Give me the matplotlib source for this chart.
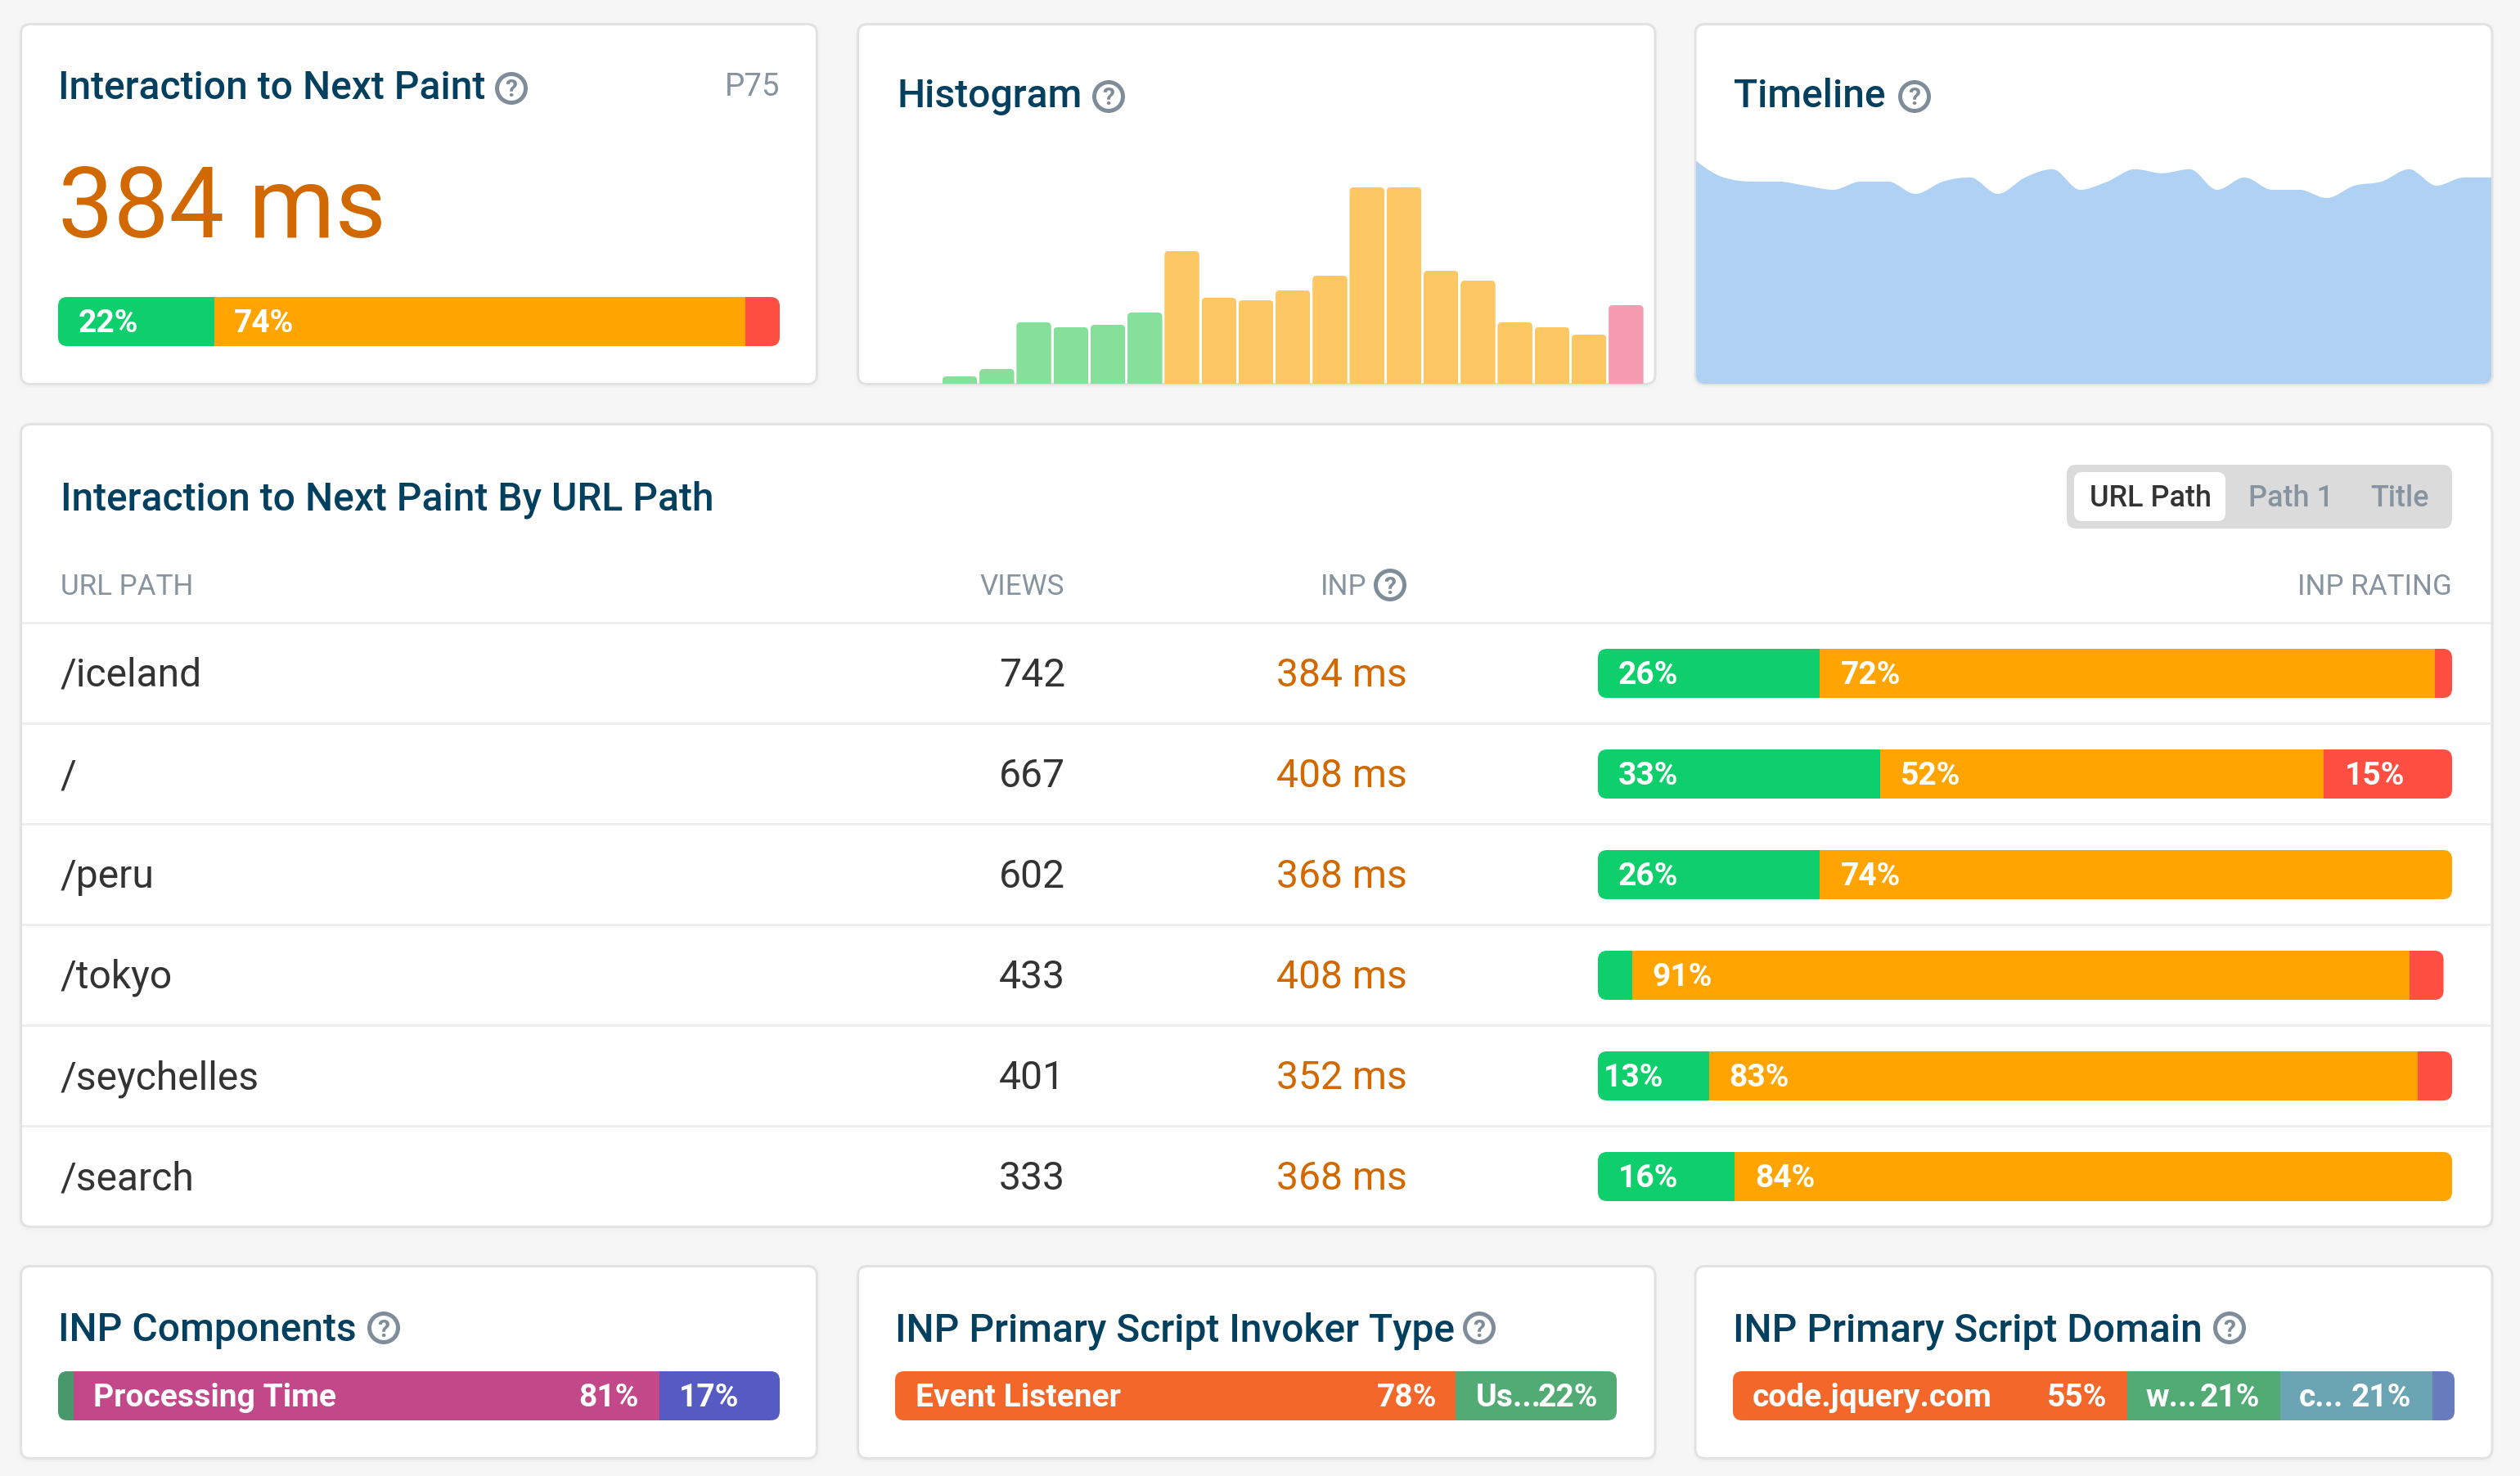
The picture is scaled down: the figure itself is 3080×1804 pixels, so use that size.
import matplotlib
matplotlib.use("Agg")
import matplotlib.pyplot as plt
import numpy as np
from matplotlib.patches import FancyBboxPatch, PathPatch, Circle, Rectangle
from matplotlib.path import Path

W, H = 3080, 1804

# ---- data ----
histogram_counts = [0, 0, 3, 6, 25, 23, 24, 29, 54, 35, 34, 38, 44, 80, 80, 46, 42, 25, 23, 20, 32]
histogram_good_bins = 8
histogram_ni_bins = 12
timeline_values = [54, 50, 49, 49, 48, 47, 49, 49, 46, 49, 50, 46, 50, 52, 47,
                   49, 52, 51, 52, 47, 50, 47, 47, 45, 48, 49, 52, 48, 50, 50]
overall_rating = [21.7, 73.5, 4.8]
overall_labels = ["22%", "74%", ""]
url_paths = ["/iceland", "/", "/peru", "/tokyo", "/seychelles", "/search"]
url_views = [742, 667, 602, 433, 401, 333]
url_inp = [384, 408, 368, 408, 352, 368]
url_good = [26, 33, 26, 4, 13, 16]
url_ni = [72, 52, 74, 91, 83, 84]
url_poor = [2, 15, 0, 4, 4, 0]
url_good_labels = ["26%", "33%", "26%", "", "13%", "16%"]
url_ni_labels = ["72%", "52%", "74%", "91%", "83%", "84%"]
url_poor_labels = ["", "15%", "", "", "", ""]
components = [2.1, 81.2, 16.7]
invoker_types = [77.7, 22.3]
script_domains = [54.6, 21.2, 21.1, 3.1]

# ---- style ----
BG = "#F6F6F6"
BORDER = "#E2E2E2"
NAVY = "#03405F"
GREY = "#87949F"
ICON = "#7F8D9B"
DARK = "#333333"
ORANGE_TXT = "#D16900"
GOOD, NI, POOR = "#0ECF6C", "#FFA400", "#FF4E42"
HIST_COLORS = ("#86E09A", "#FDC863", "#F59BB2")
AREA = "#AFD1F3"
FONT = "Roboto"
PT = 0.72

plt.rcParams["font.family"] = [FONT, "DejaVu Sans"]

fig = plt.figure(figsize=(W / 100, H / 100), dpi=100, facecolor=BG)


def px_axes(x0, y0, x1, y1, z):
    ax = fig.add_axes([x0 / W, 1 - y1 / H, (x1 - x0) / W, (y1 - y0) / H], zorder=z)
    ax.axis("off")
    return ax


back = px_axes(0, 0, W, H, 0)
back.set_xlim(0, W)
back.set_ylim(H, 0)
front = px_axes(0, 0, W, H, 5)
front.set_xlim(0, W)
front.set_ylim(H, 0)
front.patch.set_alpha(0)


def rbox(x0, y0, x1, y1, r, **kw):
    return FancyBboxPatch((x0 + r, y0 + r), x1 - x0 - 2 * r, y1 - y0 - 2 * r,
                          boxstyle=f"round,pad={r},rounding_size={r}", **kw)


def card(x0, y0, x1, y1):
    for grow, col in ((8, "#F5F5F5"), (4, "#F1F1F1")):
        back.add_patch(rbox(x0 - grow / 2, y0 - grow / 4, x1 + grow / 2, y1 + grow, 14,
                            fc=col, ec="none"))
    back.add_patch(rbox(x0, y0, x1, y1, 12, fc="white", ec=BORDER, lw=3 * PT))


def txt(x, y, s, size, color, ha="left", weight="normal"):
    front.text(x, y, s, fontsize=size * PT, color=color, ha=ha, va="baseline",
               fontweight=weight, family=[FONT, "DejaVu Sans"])


def help_icon(cx, cy):
    front.add_patch(Circle((cx, cy), 17.5, fc="none", ec=ICON, lw=5 * PT))
    front.text(cx, cy + 10.5, "?", fontsize=30 * PT, color=ICON, ha="center", va="baseline",
               fontweight="bold", family=[FONT, "DejaVu Sans"])


def stack(x0, y0, x1, y1, values, colors, total=100.0):
    """Stacked horizontal bar on its own 0-100 axis, clipped to rounded ends."""
    ax = px_axes(x0, y0, x1, y1, 3)
    ax.set_xlim(0, total)
    ax.set_ylim(0, 1)
    left = 0.0
    end = x0 + (x1 - x0) * sum(values) / total
    clip = rbox(x0, y0, end, y1, 11, transform=back.transData, fc="none", ec="none")
    for v, c in zip(values, colors):
        for b in ax.barh(0.5, v, left=left, height=1.0, color=c, linewidth=0):
            b.set_clip_path(clip)
        left += v


# ---- cards ----
card(25.5, 29.5, 998.5, 469.5)
card(1048.5, 29.5, 2023, 469.5)
card(2072, 29.5, 3046, 469.5)
card(25.5, 518.5, 3046, 1499.5)
card(25.5, 1547.5, 998.5, 1782.5)
card(1048.5, 1547.5, 2023, 1782.5)
card(2072, 1547.5, 3046, 1782.5)

# ---- top left card ----
TITLE = 48
BAR = 39
txt(71, 121, "Interaction to Next Paint", TITLE, NAVY, weight="medium")
help_icon(625, 108)
txt(953, 117, "P75", 38.5, GREY, ha="right")
txt(71, 290, f"{url_inp[0]} ms", 120.5, ORANGE_TXT)
stack(71, 363, 953, 423, overall_rating, (GOOD, NI, POOR))
txt(96, 406, overall_labels[0], BAR, "white", weight="bold")
txt(286, 406, overall_labels[1], BAR, "white", weight="bold")

# ---- histogram ----
txt(1097, 131, "Histogram", TITLE, NAVY, weight="medium")
help_icon(1355, 118)
hax = px_axes(1060, 229, 2010, 469, 2)
hax.set_xlim(0, len(histogram_counts))
hax.set_ylim(0, max(histogram_counts))
bar_w = 42.5 / 45.25
rx, ry = 5 / 45.25, 5 / 3.0
colors = [HIST_COLORS[0] if i < histogram_good_bins else
          HIST_COLORS[1] if i < histogram_good_bins + histogram_ni_bins else HIST_COLORS[2]
          for i in range(len(histogram_counts))]
bars = hax.bar(np.arange(len(histogram_counts)) + 0.5, histogram_counts, width=bar_w,
               color=colors, linewidth=0)
for b in bars:
    h = b.get_height()
    if h <= 0:
        continue
    l, r = b.get_x(), b.get_x() + b.get_width()
    verts = [(l, 0), (l, h - ry), (l, h), (l + rx, h), (r - rx, h), (r, h), (r, h - ry), (r, 0), (l, 0)]
    codes = [Path.MOVETO, Path.LINETO, Path.CURVE3, Path.CURVE3, Path.LINETO,
             Path.CURVE3, Path.CURVE3, Path.LINETO, Path.CLOSEPOLY]
    b.set_clip_path(PathPatch(Path(verts, codes), transform=hax.transData))

# ---- timeline ----
txt(2119, 131, "Timeline", TITLE, NAVY, weight="medium")
help_icon(2340, 118)
tax = px_axes(2073, 196.7, 3045, 469, 2)
tax.set_xlim(0, len(timeline_values) - 1)
tax.set_ylim(0, max(timeline_values))
y = np.array(timeline_values, dtype=float)
n = len(y)
s = np.diff(y)
t = np.zeros(n)
for i in range(1, n - 1):
    p = (s[i - 1] + s[i]) / 2
    t[i] = (np.sign(s[i - 1]) + np.sign(s[i])) * min(abs(s[i - 1]), abs(s[i]), 0.5 * abs(p))
t[0] = (3 * s[0] - t[1]) / 2
t[-1] = (3 * s[-1] - t[-2]) / 2
verts = [(0, 0), (0, y[0])]
codes = [Path.MOVETO, Path.LINETO]
for i in range(n - 1):
    verts += [(i + 1 / 3, y[i] + t[i] / 3), (i + 2 / 3, y[i + 1] - t[i + 1] / 3), (i + 1, y[i + 1])]
    codes += [Path.CURVE4] * 3
verts += [(n - 1, 0), (0, 0)]
codes += [Path.LINETO, Path.CLOSEPOLY]
area = PathPatch(Path(verts, codes), fc=AREA, ec="none")
tax.add_patch(area)
area.set_clip_path(rbox(2073, 29.5, 3045, 469, 11, transform=back.transData, fc="none", ec="none"))

# ---- table ----
txt(74, 623, "Interaction to Next Paint By URL Path", TITLE, NAVY, weight="medium")
back.add_patch(rbox(2526, 568, 2997, 646, 12, fc="#DBDBDB", ec="none"))
back.add_patch(rbox(2535, 577, 2720, 637, 10, fc="white", ec="none"))
txt(2554, 619, "URL Path", 36, DARK, weight="medium")
txt(2748, 619, "Path 1", 36, GREY, weight="medium")
txt(2897, 619, "Title", 36, GREY, weight="medium")
HEAD = 35
txt(74, 727, "URL PATH", HEAD, GREY)
txt(1301, 727, "VIEWS", HEAD, GREY, ha="right")
txt(1670, 727, "INP", HEAD, GREY, ha="right")
help_icon(1699, 715)
txt(2997, 727, "INP RATING", HEAD, GREY, ha="right")

row_h = 123.0
for i, path in enumerate(url_paths):
    line_y = 761 + row_h * i
    back.add_patch(Rectangle((27, line_y - 1.5), 3017, 3, fc="#EEEEEE", ec="none"))
    base = line_y + 78
    txt(74, base, path, 48, DARK)
    txt(1302, base, str(url_views[i]), 48, DARK, ha="right")
    txt(1720, base, f"{url_inp[i]} ms", 48, ORANGE_TXT, ha="right")
    top = line_y + 32
    vals = (url_good[i], url_ni[i], url_poor[i])
    stack(1953, top, 2997, top + 60, vals, (GOOD, NI, POOR))
    x_ni = 1953 + 10.44 * url_good[i]
    x_poor = x_ni + 10.44 * url_ni[i]
    lab_base = top + 43
    if url_good_labels[i]:
        pad = 7 if url_good[i] == 13 else 25
        txt(1953 + pad, lab_base, url_good_labels[i], BAR, "white", weight="bold")
    txt(x_ni + 25, lab_base, url_ni_labels[i], BAR, "white", weight="bold")
    if url_poor_labels[i]:
        txt(x_poor + 25, lab_base, url_poor_labels[i], BAR, "white", weight="bold")

# ---- bottom cards ----
txt(71, 1639, "INP Components", TITLE, NAVY, weight="medium")
help_icon(469, 1623)
stack(71, 1676, 953, 1736, components, ("#47996C", "#C2488A", "#565BC4"))
txt(114, 1719, "Processing Time", BAR, "white", weight="bold")
txt(781, 1719, "81%", BAR, "white", ha="right", weight="bold")
txt(830, 1719, "17%", BAR, "white", weight="bold")

txt(1094, 1639, "INP Primary Script Invoker Type", TITLE, NAVY, weight="medium")
help_icon(1808, 1623)
stack(1094, 1676, 1976, 1736, invoker_types, ("#F3672A", "#52AB75"))
txt(1119, 1719, "Event Listener", BAR, "white", weight="bold")
txt(1756, 1719, "78%", BAR, "white", ha="right", weight="bold")
txt(1804, 1719, "Us...", BAR, "white", weight="bold")
txt(1953, 1719, "22%", BAR, "white", ha="right", weight="bold")

txt(2118, 1639, "INP Primary Script Domain", TITLE, NAVY, weight="medium")
help_icon(2725, 1623)
stack(2118, 1676, 3000, 1736, script_domains, ("#F3672A", "#52AB75", "#6BA5B3", "#677BBD"))
txt(2142, 1719, "code.jquery.com", BAR, "white", weight="bold")
txt(2575, 1719, "55%", BAR, "white", ha="right", weight="bold")
txt(2622, 1719, "w...", BAR, "white", weight="bold")
txt(2762, 1719, "21%", BAR, "white", ha="right", weight="bold")
txt(2810, 1719, "c...", BAR, "white", weight="bold")
txt(2947, 1719, "21%", BAR, "white", ha="right", weight="bold")

fig.savefig("out.png", dpi=100, facecolor=BG)
